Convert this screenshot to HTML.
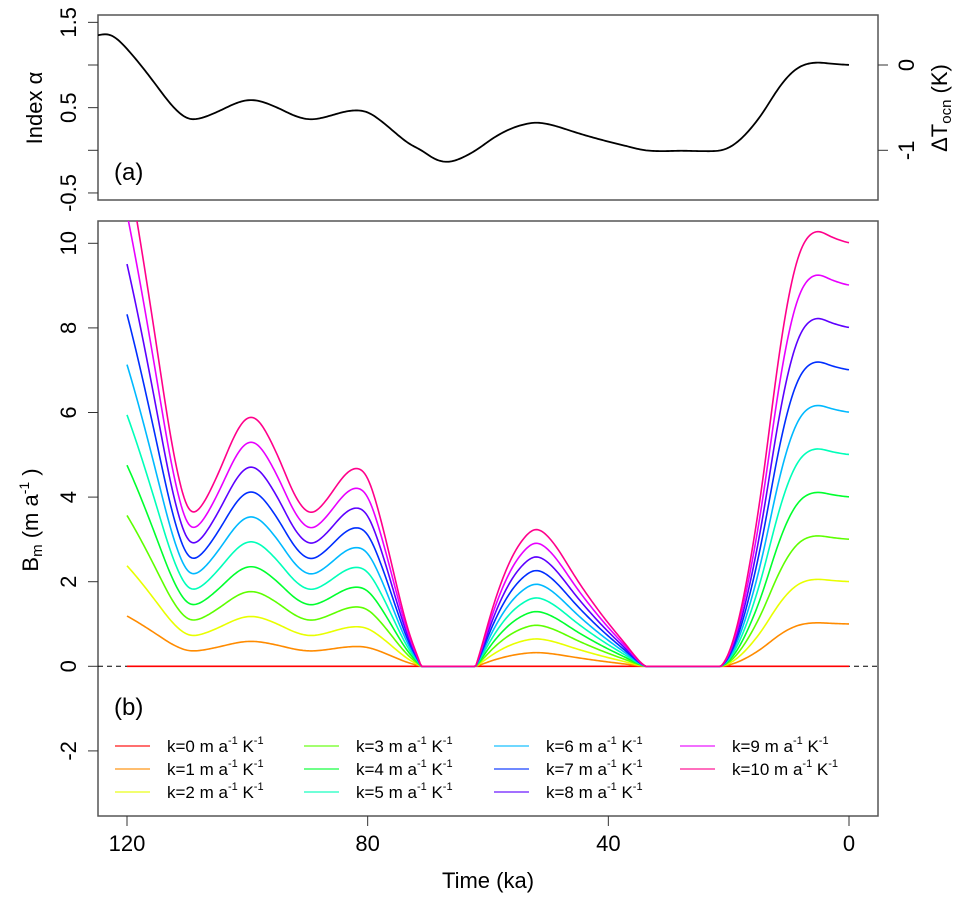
<!DOCTYPE html>
<html><head><meta charset="utf-8"><style>
html,body{margin:0;padding:0;background:#fff;}
svg{display:block;font-family:"Liberation Sans",sans-serif;}
</style></head><body>
<svg id="chart" width="960" height="899" viewBox="0 0 960 899" xmlns="http://www.w3.org/2000/svg">
<defs>
<clipPath id="clipA"><rect x="98" y="15" width="780" height="185"/></clipPath>
<clipPath id="clipB"><rect x="98" y="221" width="780" height="595"/></clipPath>
</defs>
<rect x="98" y="15" width="780" height="185" fill="none" stroke="#555" stroke-width="1.5"/>
<rect x="98" y="221" width="780" height="595" fill="none" stroke="#555" stroke-width="1.5"/>
<g id="axes"></g>
<g id="seriesA" clip-path="url(#clipA)"></g>
<g id="seriesB" clip-path="url(#clipB)"></g>
<text x="114" y="180" font-size="24">(a)</text>
<text x="114" y="715" font-size="24">(b)</text>
<text transform="translate(42,108) rotate(-90)" text-anchor="middle" font-size="22">Index α</text>
<text transform="translate(38,520) rotate(-90)" text-anchor="middle" font-size="22">B<tspan font-size="15" dy="4">m</tspan><tspan dy="-4"> (m a</tspan><tspan font-size="14" dy="-9">-1</tspan><tspan dy="9"> )</tspan></text>
<text transform="translate(947,108) rotate(-90)" text-anchor="middle" font-size="22">ΔT<tspan font-size="15" dy="4">ocn</tspan><tspan dy="-4"> (K)</tspan></text>
<text x="488" y="888" text-anchor="middle" font-size="22">Time (ka)</text>
<g id="legend"></g>
</svg>
<script>
const alphaKa = [125,123.5,122,120,117.5,115,112.5,110,108,105,102,100,98,95,92,89.5,87,84,82,80,77.5,75,73,71,69,67,65,62,59,56,53,51.5,49,45,41,37,34,31,28,24,21,19,17,14.5,12,10,8,5.5,3,0];
const alphaVal = [1.34,1.37,1.33,1.19,0.98,0.75,0.52,0.37,0.37,0.45,0.55,0.59,0.58,0.50,0.40,0.36,0.39,0.45,0.47,0.45,0.33,0.18,0.07,0.0,-0.10,-0.14,-0.11,0.0,0.15,0.26,0.32,0.325,0.29,0.20,0.12,0.05,0.0,-0.01,-0.005,-0.01,0.0,0.07,0.2,0.42,0.7,0.88,0.99,1.03,1.015,1.0];
const kValues = [0,1,2,3,4,5,6,7,8,9,10];
const kColors = ["#FF0000","#FF8B00","#E8FF00","#5DFF00","#00FF2E","#00FFB9","#00B9FF","#002EFF","#5D00FF","#E800FF","#FF008B"];
const xTicks = [120,80,40,0];
const yTicksA = [1.5,1.0,0.5,0,-0.5];
const yTickLabelsA = ["1.5","","0.5","","-0.5"];
const yTicksAR = [0,-1];
const yTicksB = [10,8,6,4,2,0,-2];

const NS="http://www.w3.org/2000/svg";
const X = t => 127 + (120 - t) * 6.0167;
const YA = a => 65 - (a - 1) * 85.3;
const YB = v => 666.3 - v * 42.3;
function el(tag, attrs, parent){const e=document.createElementNS(NS,tag);for(const k in attrs)e.setAttribute(k,attrs[k]);parent.appendChild(e);return e;}

function rawAlpha(t){
  const n=alphaKa.length;
  if(t>=alphaKa[0]) return alphaVal[0];
  if(t<=alphaKa[n-1]) return alphaVal[n-1];
  let i=0; while(i<n-2 && t<alphaKa[i+1]) i++;
  const p0=alphaVal[Math.max(i-1,0)],p1=alphaVal[i],p2=alphaVal[i+1],p3=alphaVal[Math.min(i+2,n-1)];
  const t0=alphaKa[Math.max(i-1,0)],t1=alphaKa[i],t2=alphaKa[i+1],t3=alphaKa[Math.min(i+2,n-1)];
  const h=t1-t2; const s=(t1-t)/h;
  const m1=(t0===t1?(p2-p1):(p2-p0)*h/(t0-t2));
  const m2=(t3===t2?(p2-p1):(p3-p1)*h/(t1-t3));
  const s2=s*s,s3=s2*s;
  return (2*s3-3*s2+1)*p1+(s3-2*s2+s)*m1+(-2*s3+3*s2)*p2+(s3-s2)*m2;
}
// gentle Gaussian smoothing of the interpolated curve
function alphaAt(t){
  let sum=0,w=0;
  for(let d=-2;d<=2.001;d+=0.25){
    const tt=Math.min(125,Math.max(0,t+d));
    const ww=Math.exp(-d*d/(2*0.8*0.8));
    sum+=ww*rawAlpha(tt);w+=ww;
  }
  return sum/w;
}

const axes=document.getElementById('axes');
xTicks.forEach(t=>{
  const l=el('line',{x1:X(t),x2:X(t),y1:816,y2:826,stroke:'#333','stroke-width':1},axes);
  
  
  const tx=el('text',{x:X(t),y:851,'text-anchor':'middle','font-size':22},axes);
  tx.textContent=t;
  
  
});
yTicksA.forEach((v,i)=>{
  const l=el('line',{x1:88,x2:98,y1:YA(v),y2:YA(v),stroke:'#333','stroke-width':1},axes);
  
  
  if(yTickLabelsA[i]){
    const tx=el('text',{transform:`translate(76,${YA(v)}) rotate(-90)`,'text-anchor':'middle','font-size':22},axes);
    tx.textContent=yTickLabelsA[i];
    
    
  }
});
yTicksAR.forEach(v=>{
  const y=YA(v+1);
  const l=el('line',{x1:878,x2:888,y1:y,y2:y,stroke:'#333','stroke-width':1},axes);
  
  
  const tx=el('text',{transform:`translate(914,${y}) rotate(-90)`,'text-anchor':'middle','font-size':22},axes);
  tx.textContent=v;
  
  
});
yTicksB.forEach(v=>{
  const l=el('line',{x1:88,x2:98,y1:YB(v),y2:YB(v),stroke:'#333','stroke-width':1},axes);
  
  
  const tx=el('text',{transform:`translate(76,${YB(v)}) rotate(-90)`,'text-anchor':'middle','font-size':22},axes);
  tx.textContent=v;
  
  
});
const z=el('line',{x1:98,x2:878,y1:YB(0),y2:YB(0),stroke:'#000','stroke-width':1,'stroke-dasharray':'5,4'},axes);



let dA='';
for(let t=125;t>=0;t-=0.25){dA+=(dA?'L':'M')+X(t).toFixed(2)+','+YA(alphaAt(t)).toFixed(2);}
const pa=el('path',{d:dA,fill:'none',stroke:'#000','stroke-width':1.8},document.getElementById('seriesA'));



const gB=document.getElementById('seriesB');
kValues.forEach((k,i)=>{
  let d='';
  for(let t=120;t>=0;t-=0.25){const v=k*Math.max(alphaAt(t),0);d+=(d?'L':'M')+X(t).toFixed(2)+','+YB(v).toFixed(2);}
  const p=el('path',{d:d,fill:'none',stroke:kColors[i],'stroke-width':1.6},gB);
  
  
});

const lg=document.getElementById('legend');
const colX=[115,304,494,680], rowY=[746,769,792];
kValues.forEach((k,i)=>{
  const c=Math.floor(i/3), r=i%3;
  const g=el('g',{},lg);
  
  
  el('line',{x1:colX[c],x2:colX[c]+35,y1:rowY[r],y2:rowY[r],stroke:kColors[i],'stroke-width':1.6,opacity:0.75},g);
  const tx=el('text',{x:colX[c]+52,y:rowY[r]+6,'font-size':17},g);
  tx.innerHTML=`k=${k} m a<tspan font-size="11" dy="-8">-1</tspan><tspan dy="8"> K</tspan><tspan font-size="11" dy="-8">-1</tspan>`;
});
</script>
</body></html>
